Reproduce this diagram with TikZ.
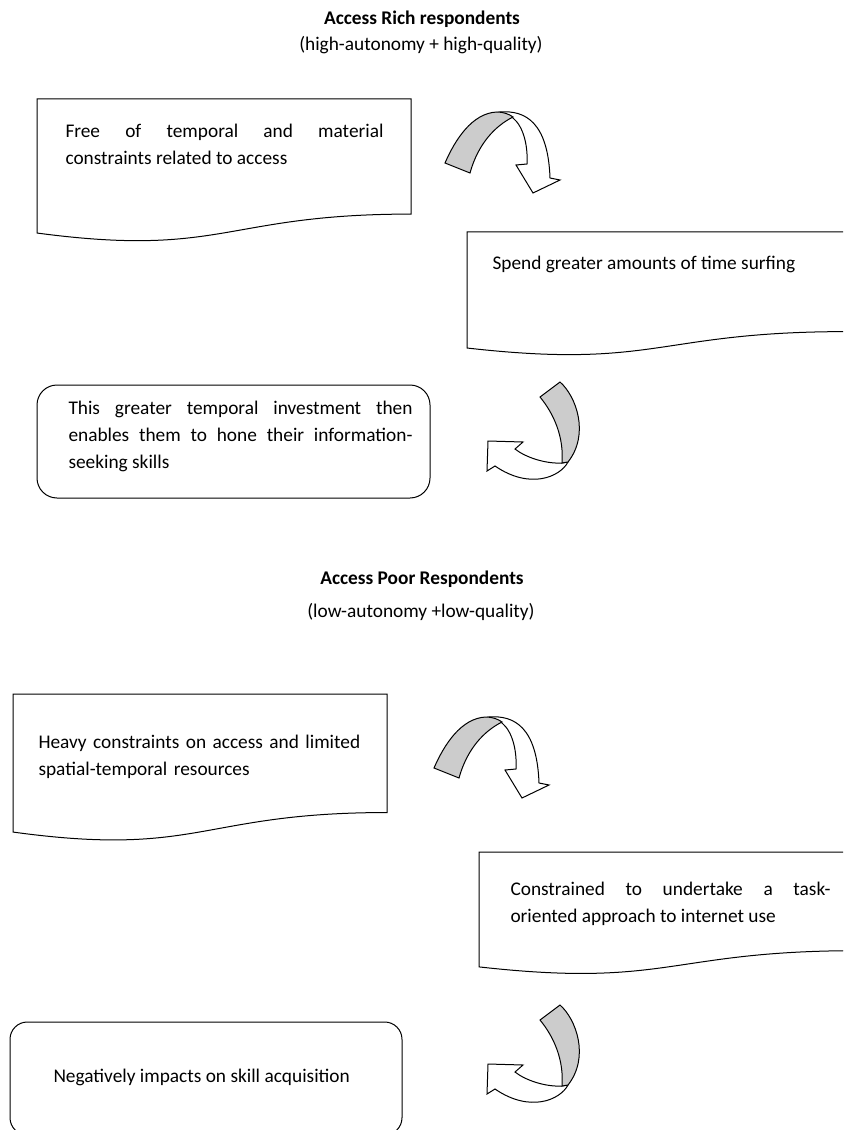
\documentclass[tikz,border=0pt]{standalone}
\usepackage{fontspec}
\setmainfont{Carlito}

\begin{document}
\begin{tikzpicture}[
      x=0.75pt, y=-0.75pt,
      line width=0.75pt,
      every node/.style={font=\fontsize{14.5}{20.25}\selectfont, inner sep=0pt},
      heading/.style={font=\fontsize{14.5}{20.25}\selectfont\bfseries, anchor=base},
      subheading/.style={anchor=base},
      textblock/.style={anchor=base west, align=justify},
      docbox/.pic={
        \draw[fill=white] (0,0) -- (1,0) -- (1,0.802)
          .. controls (0.5,0.802) and (0.5,1.1075) .. (0,0.934) -- cycle;
      },
      turnright/.pic={
        \filldraw[fill=white] (0,0) .. controls (25,-2) and (48,10) .. (50,66)
          -- (60,68) -- (33,81) -- (16,53) -- (27,52)
          .. controls (28,35) and (24,15) .. (13,6) -- cycle;
        \filldraw[fill=black!20] (-55,51) .. controls (-45,28) and (-28,1) .. (-3,0)
          .. controls (3,0) and (9,2) .. (13,5)
          .. controls (-5,14) and (-22,32) .. (-30,61) -- cycle;
      },
      turnleft/.pic={
        \filldraw[fill=white] (8,80) .. controls (0,95) and (-30,108) .. (-65,84)
          -- (-73,89) -- (-72,59) -- (-37,60) -- (-45,67)
          .. controls (-35,75) and (-15,82) .. (2,81) -- cycle;
        \filldraw[fill=black!20] (-20,15) -- (0,0)
          .. controls (16,14) and (30,52) .. (8,80) -- (2,81)
          .. controls (4,55) and (-6,32) .. (-20,15) -- cycle;
      }
    ]
    \useasboundingbox (0,0) rectangle (843,1130);
    \clip (0,0) rectangle (843,1130);

    % Access rich part
    \node[heading] (richtitle) at (422,25) {Access Rich respondents};
    \node[subheading] (richsub) at (421,51) {(high-autonomy + high-quality)};

    \pic[xscale=374, yscale=143.5] at (37,99) {docbox};
    \node[textblock, text width=238.5pt] (freeaccess) at (65,138)
      {Free of temporal and material\linebreak constraints related to access};
    \pic at (500,112) {turnright};

    \pic[xscale=380, yscale=124.2] at (467,232) {docbox};
    \node[anchor=base west] (surfing) at (492,270) {Spend greater amounts of time surfing};
    \pic at (560,382) {turnleft};

    \draw[rounded corners=15pt] (37,385) rectangle (430,498);
    \node[textblock, text width=258pt] (honing) at (68,414)
      {This greater temporal investment then\linebreak enables them to hone their information-\linebreak seeking skills};

    % Access poor part
    \node[heading] (poortitle) at (422,584) {Access Poor Respondents};
    \node[subheading] (poorsub) at (421,617) {(low-autonomy +low-quality)};

    \pic[xscale=374, yscale=147.8] at (13,694) {docbox};
    \node[textblock, align=left, text width=250pt] (constraints) at (38,748)
      {Heavy constraints on access and limited\\ spatial-temporal resources};
    \pic at (489,717) {turnright};

    \pic[xscale=380, yscale=123] at (479,852) {docbox};
    \node[textblock, text width=240pt] (taskuse) at (510,895)
      {Constrained to undertake a task-\linebreak oriented approach to internet use};
    \pic at (560,1005) {turnleft};

    \draw[rounded corners=13pt] (10,1022) rectangle (402,1135);
    \node[anchor=base west] (impact) at (53,1082) {Negatively impacts on skill acquisition};

    \end{tikzpicture}
\end{document}
